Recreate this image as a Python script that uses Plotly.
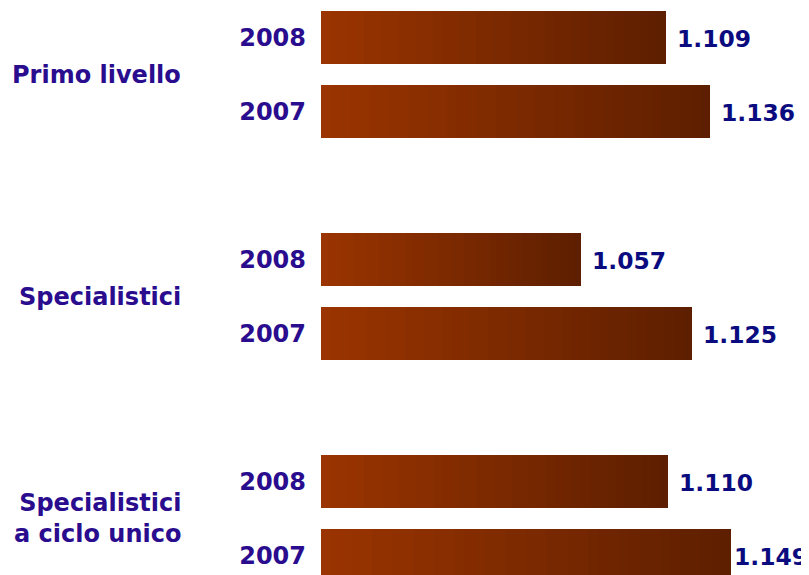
import plotly.graph_objects as go

# ---- data ----
groups = ["Primo livello", "Specialistici", "Specialistici<br>a ciclo unico"]
years = ["2008", "2007", "2008", "2007", "2008", "2007"]
values = [1109, 1136, 1057, 1125, 1110, 1149]
value_labels = ["1.109", "1.136", "1.057", "1.125", "1.110", "1.149"]

# ---- layout constants (page body has an 8px margin) ----
W, H = 801, 567
ML = 313
x_min, x_max = 898, 1196.5
positions = [0, 1, 3, 4, 6, 7]
y_range = [7.257, -0.405]
bar_w = 0.716
N_SEG = 40
c_left = (0x9A, 0x34, 0x00)
c_right = (0x5E, 0x1F, 0x00)
year_color = "#2a0c8e"
value_color = "#0b0b80"
FONT = "DejaVu Sans"
VAL_SIZE = 23.4

fig = go.Figure()

# gradient bars: each bar split into N_SEG stacked pieces from axis start to value
for k in range(N_SEG):
    t = k / (N_SEG - 1)
    col = "rgb(%d,%d,%d)" % tuple(round(a + (b - a) * t) for a, b in zip(c_left, c_right))
    fig.add_trace(go.Bar(
        orientation="h",
        y=positions,
        x=[(v - x_min) / N_SEG for v in values],
        base=[x_min + (v - x_min) * k / N_SEG for v in values],
        width=bar_w,
        marker=dict(color=col, line=dict(width=0)),
        showlegend=False,
        hoverinfo="skip",
    ))

px_per_unit = (W - ML) / (x_max - x_min)
text_w = 3.16 * VAL_SIZE + 3
for p, v, lab in zip(positions, values, value_labels):
    room = (x_max - v) * px_per_unit - text_w
    shift = max(-2, min(9, room))
    fig.add_annotation(
        x=v, y=p, xref="x", yref="y", text="<b>%s</b>" % lab,
        showarrow=False, xanchor="left", yanchor="middle", xshift=shift, yshift=-1,
        font=dict(family=FONT, size=VAL_SIZE, color=value_color),
    )

group_pos = [(positions[2 * i] + positions[2 * i + 1]) / 2 for i in range(len(groups))]
for g, yp in zip(groups, group_pos):
    fig.add_annotation(
        x=0, y=yp, xref="paper", yref="y", text="<b>%s</b>" % g,
        showarrow=False, xanchor="right", yanchor="middle", align="right",
        xshift=-(321 - 183),
        font=dict(family=FONT, size=24, color=year_color),
    )

fig.update_layout(
    width=W, height=H,
    margin=dict(l=ML, r=0, t=0, b=0),
    paper_bgcolor="white", plot_bgcolor="white",
    barmode="overlay",
    bargap=0,
    xaxis=dict(range=[x_min, x_max], visible=False, fixedrange=True),
    yaxis=dict(
        range=y_range,
        tickmode="array",
        tickvals=positions,
        ticktext=["<b>%s</b>" % y for y in years],
        tickfont=dict(family=FONT, size=24, color=year_color),
        showgrid=False, zeroline=False, showline=False,
        ticks="", ticklabelstandoff=14,
    ),
)

fig.write_html("out.html")
